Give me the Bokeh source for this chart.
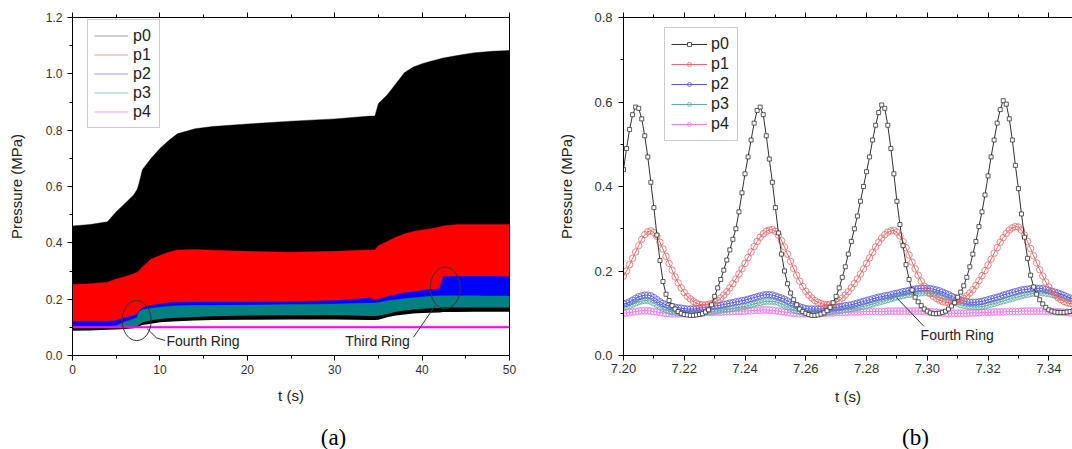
from bokeh.plotting import figure
from bokeh.models import (Range1d, FixedTicker, NumeralTickFormatter, LinearAxis,
                          Legend, LegendItem, Label, CustomLabelingPolicy)
from bokeh.layouts import row, column
from bokeh.embed import file_html
from bokeh.resources import INLINE
from bokeh.core.properties import value

SANS = "Liberation Sans"
SERIF = "Liberation Serif"

# ---------------- panel (a): envelopes of the pressure oscillation ----------------
T_A = [0, 2, 4, 5, 6, 7, 7.4, 7.6, 8, 9, 10, 11, 12, 14, 16, 20, 25, 30, 34, 34.6,
       35, 36, 37, 38, 39, 40, 41, 42, 42.4, 44, 46, 48, 50]
P0_HI = [0.46, 0.465, 0.475, 0.51, 0.54, 0.57, 0.59, 0.61, 0.66, 0.70, 0.735, 0.763,
         0.787, 0.805, 0.813, 0.822, 0.832, 0.84, 0.85, 0.85, 0.895, 0.925, 0.965,
         1.005, 1.024, 1.036, 1.045, 1.053, 1.056, 1.065, 1.075, 1.08, 1.083]
P0_LO = [0.088, 0.089, 0.091, 0.092, 0.094, 0.097, 0.099, 0.104, 0.108, 0.113, 0.118,
         0.12, 0.122, 0.124, 0.126, 0.127, 0.128, 0.128, 0.126, 0.126, 0.127, 0.136,
         0.142, 0.146, 0.149, 0.151, 0.152, 0.153, 0.154, 0.154, 0.155, 0.155, 0.155]
P1_HI = [0.252, 0.255, 0.26, 0.272, 0.28, 0.29, 0.296, 0.30, 0.314, 0.343, 0.355, 0.367,
         0.375, 0.376, 0.374, 0.37, 0.367, 0.37, 0.375, 0.375, 0.39, 0.405, 0.42, 0.432,
         0.44, 0.446, 0.45, 0.456, 0.46, 0.465, 0.465, 0.465, 0.465]
P1_LO = [0.104, 0.104, 0.104, 0.104, 0.105, 0.107, 0.109, 0.112, 0.122, 0.13, 0.135,
         0.138, 0.14, 0.142, 0.144, 0.147, 0.148, 0.149, 0.145, 0.145, 0.146, 0.152,
         0.159, 0.164, 0.167, 0.17, 0.172, 0.173, 0.174, 0.174, 0.174, 0.174, 0.174]
P2_HI = [0.122, 0.122, 0.122, 0.124, 0.134, 0.142, 0.147, 0.158, 0.17, 0.178, 0.183,
         0.187, 0.189, 0.19, 0.19, 0.19, 0.191, 0.195, 0.204, 0.198, 0.2, 0.209, 0.216,
         0.222, 0.226, 0.231, 0.234, 0.237, 0.28, 0.281, 0.281, 0.281, 0.28]
P2_LO = [0.103, 0.103, 0.103, 0.104, 0.105, 0.107, 0.109, 0.112, 0.122, 0.13, 0.135,
         0.138, 0.14, 0.142, 0.144, 0.147, 0.148, 0.149, 0.145, 0.145, 0.146, 0.152,
         0.159, 0.164, 0.167, 0.17, 0.172, 0.173, 0.174, 0.174, 0.174, 0.174, 0.174]
P3_HI = [0.103, 0.103, 0.103, 0.106, 0.12, 0.13, 0.136, 0.155, 0.162, 0.168, 0.172,
         0.175, 0.177, 0.178, 0.178, 0.179, 0.181, 0.183, 0.186, 0.186, 0.188, 0.194,
         0.198, 0.202, 0.205, 0.208, 0.21, 0.212, 0.212, 0.212, 0.212, 0.211, 0.211]
P3_LO = [0.098, 0.098, 0.098, 0.099, 0.1, 0.102, 0.104, 0.108, 0.118, 0.125, 0.13,
         0.132, 0.134, 0.137, 0.139, 0.142, 0.143, 0.144, 0.14, 0.14, 0.141, 0.147,
         0.155, 0.16, 0.163, 0.166, 0.168, 0.169, 0.17, 0.17, 0.17, 0.17, 0.17]
P4_HI = [0.1035, 0.1035, 0.1035, 0.1035, 0.104, 0.104, 0.104, 0.104, 0.104, 0.104,
         0.104, 0.104, 0.104, 0.104, 0.104, 0.104, 0.104, 0.104, 0.104, 0.104, 0.104,
         0.104, 0.104, 0.104, 0.104, 0.104, 0.104, 0.104, 0.104, 0.104, 0.104, 0.104, 0.104]
P4_LO = [0.0965, 0.0965, 0.0965, 0.0965, 0.097, 0.097, 0.097, 0.097, 0.097, 0.097,
         0.097, 0.097, 0.097, 0.097, 0.097, 0.097, 0.097, 0.097, 0.097, 0.097, 0.097,
         0.097, 0.097, 0.097, 0.097, 0.097, 0.097, 0.097, 0.097, 0.097, 0.097, 0.097, 0.097]

A_XTICKS = [0, 10, 20, 30, 40, 50]
A_XMINOR = [5, 15, 25, 35, 45]
A_YTICKS = [0.0, 0.2, 0.4, 0.6, 0.8, 1.0, 1.2]
A_YMINOR = [0.1, 0.3, 0.5, 0.7, 0.9, 1.1]

# ---------------- panel (b): zoom on 7.20 - 7.35 s, 1 ms sampling ----------------
T0_B = 7.200
DT_B = 0.001
B_P0 = [0.44, 0.49, 0.535, 0.57, 0.588, 0.585, 0.56, 0.52, 0.47, 0.41,
        0.35, 0.285, 0.225, 0.175, 0.145, 0.13, 0.118, 0.11, 0.104, 0.10,
        0.097, 0.096, 0.095, 0.095, 0.096, 0.097, 0.099, 0.103, 0.108, 0.12,
        0.14, 0.16, 0.18, 0.202, 0.226, 0.25, 0.275, 0.30, 0.34, 0.385,
        0.43, 0.47, 0.51, 0.55, 0.58, 0.588, 0.57, 0.52, 0.465, 0.41,
        0.35, 0.29, 0.24, 0.20, 0.17, 0.148, 0.132, 0.12, 0.11, 0.104,
        0.10, 0.097, 0.095, 0.095, 0.096, 0.098, 0.101, 0.106, 0.114, 0.125,
        0.14, 0.16, 0.185, 0.21, 0.24, 0.27, 0.30, 0.33, 0.365, 0.40,
        0.435, 0.47, 0.51, 0.545, 0.575, 0.593, 0.585, 0.545, 0.49, 0.43,
        0.365, 0.31, 0.26, 0.215, 0.18, 0.155, 0.138, 0.127, 0.118, 0.11,
        0.105, 0.101, 0.099, 0.099, 0.10, 0.102, 0.105, 0.11, 0.117, 0.125,
        0.138, 0.15, 0.165, 0.185, 0.21, 0.24, 0.27, 0.305, 0.34, 0.38,
        0.425, 0.47, 0.51, 0.55, 0.582, 0.603, 0.595, 0.56, 0.51, 0.45,
        0.395, 0.335, 0.28, 0.23, 0.19, 0.162, 0.145, 0.132, 0.122, 0.114,
        0.108, 0.105, 0.103, 0.102, 0.102, 0.102, 0.103, 0.104, 0.106, 0.108,
        0.112]
B_P1 = [0.188, 0.20, 0.215, 0.23, 0.245, 0.26, 0.275, 0.286, 0.293, 0.295,
        0.291, 0.282, 0.268, 0.252, 0.235, 0.218, 0.202, 0.186, 0.172, 0.16,
        0.149, 0.14, 0.134, 0.128, 0.124, 0.121, 0.12, 0.12, 0.121, 0.123,
        0.126, 0.13, 0.136, 0.143, 0.151, 0.16, 0.17, 0.181, 0.193, 0.205,
        0.218, 0.232, 0.245, 0.258, 0.27, 0.28, 0.288, 0.294, 0.297, 0.298,
        0.294, 0.285, 0.272, 0.257, 0.24, 0.223, 0.206, 0.19, 0.176, 0.163,
        0.152, 0.143, 0.136, 0.13, 0.126, 0.123, 0.121, 0.12, 0.121, 0.123,
        0.126, 0.13, 0.136, 0.143, 0.151, 0.16, 0.17, 0.181, 0.193, 0.205,
        0.218, 0.231, 0.244, 0.257, 0.268, 0.278, 0.286, 0.292, 0.295, 0.296,
        0.292, 0.283, 0.27, 0.255, 0.238, 0.221, 0.205, 0.19, 0.176, 0.164,
        0.154, 0.146, 0.14, 0.135, 0.131, 0.128, 0.126, 0.125, 0.125, 0.126,
        0.128, 0.131, 0.135, 0.141, 0.148, 0.156, 0.166, 0.177, 0.189, 0.201,
        0.214, 0.228, 0.242, 0.255, 0.268, 0.279, 0.289, 0.297, 0.302, 0.305,
        0.304, 0.297, 0.285, 0.27, 0.253, 0.236, 0.219, 0.203, 0.188, 0.174,
        0.162, 0.152, 0.144, 0.137, 0.132, 0.128, 0.125, 0.123, 0.122, 0.121,
        0.121]
B_P2 = [0.122, 0.124, 0.127, 0.131, 0.135, 0.139, 0.141, 0.143, 0.143, 0.141,
        0.137, 0.132, 0.127, 0.123, 0.12, 0.117, 0.115, 0.114, 0.113, 0.112,
        0.111, 0.11, 0.11, 0.11, 0.111, 0.112, 0.113, 0.114, 0.115, 0.116,
        0.117, 0.118, 0.119, 0.121, 0.122, 0.124, 0.125, 0.127, 0.128, 0.13,
        0.131, 0.133, 0.135, 0.137, 0.139, 0.141, 0.143, 0.144, 0.144, 0.143,
        0.141, 0.138, 0.136, 0.133, 0.129, 0.125, 0.121, 0.118, 0.115, 0.113,
        0.111, 0.11, 0.11, 0.11, 0.11, 0.11, 0.111, 0.112, 0.112, 0.113,
        0.114, 0.115, 0.116, 0.118, 0.119, 0.12, 0.122, 0.124, 0.126, 0.128,
        0.13, 0.132, 0.134, 0.136, 0.138, 0.139, 0.141, 0.142, 0.144, 0.146,
        0.147, 0.149, 0.151, 0.152, 0.154, 0.156, 0.157, 0.158, 0.159, 0.159,
        0.159, 0.158, 0.157, 0.155, 0.153, 0.15, 0.147, 0.144, 0.14, 0.137,
        0.134, 0.131, 0.129, 0.127, 0.126, 0.126, 0.126, 0.127, 0.128, 0.13,
        0.132, 0.134, 0.136, 0.138, 0.14, 0.143, 0.145, 0.147, 0.149, 0.151,
        0.153, 0.155, 0.156, 0.157, 0.158, 0.159, 0.159, 0.159, 0.158, 0.156,
        0.154, 0.152, 0.15, 0.148, 0.145, 0.142, 0.139, 0.136, 0.134, 0.132,
        0.13]
B_P3 = [0.114, 0.116, 0.118, 0.121, 0.124, 0.127, 0.129, 0.13, 0.13, 0.128,
        0.124, 0.12, 0.115, 0.111, 0.108, 0.105, 0.103, 0.102, 0.101, 0.1,
        0.1, 0.1, 0.1, 0.1, 0.101, 0.101, 0.102, 0.103, 0.103, 0.104,
        0.105, 0.106, 0.107, 0.108, 0.109, 0.11, 0.111, 0.113, 0.114, 0.115,
        0.116, 0.118, 0.12, 0.122, 0.124, 0.125, 0.127, 0.128, 0.128, 0.128,
        0.127, 0.125, 0.122, 0.119, 0.115, 0.111, 0.108, 0.105, 0.103, 0.102,
        0.101, 0.1, 0.1, 0.1, 0.1, 0.101, 0.101, 0.102, 0.103, 0.104,
        0.105, 0.106, 0.107, 0.108, 0.109, 0.11, 0.112, 0.113, 0.115, 0.116,
        0.118, 0.12, 0.122, 0.124, 0.126, 0.128, 0.13, 0.132, 0.134, 0.136,
        0.138, 0.14, 0.141, 0.143, 0.144, 0.145, 0.146, 0.147, 0.148, 0.148,
        0.148, 0.147, 0.146, 0.145, 0.143, 0.14, 0.137, 0.133, 0.129, 0.126,
        0.123, 0.12, 0.118, 0.117, 0.116, 0.115, 0.115, 0.115, 0.116, 0.117,
        0.119, 0.121, 0.123, 0.125, 0.127, 0.129, 0.131, 0.133, 0.135, 0.137,
        0.139, 0.141, 0.143, 0.144, 0.146, 0.147, 0.148, 0.148, 0.148, 0.147,
        0.146, 0.144, 0.142, 0.14, 0.138, 0.136, 0.133, 0.13, 0.128, 0.126,
        0.124]
B_P4 = [0.1, 0.101, 0.102, 0.103, 0.104, 0.105, 0.106, 0.106, 0.106, 0.105,
        0.104, 0.103, 0.102, 0.101, 0.1, 0.1, 0.099, 0.099, 0.099, 0.099,
        0.099, 0.1, 0.1, 0.1, 0.101, 0.101, 0.101, 0.102, 0.102, 0.102,
        0.103, 0.103, 0.103, 0.104, 0.104, 0.104, 0.104, 0.105, 0.105, 0.105,
        0.105, 0.106, 0.106, 0.107, 0.107, 0.107, 0.108, 0.108, 0.107, 0.107,
        0.106, 0.105, 0.104, 0.103, 0.102, 0.101, 0.1, 0.1, 0.099, 0.099,
        0.099, 0.099, 0.099, 0.1, 0.1, 0.1, 0.1, 0.101, 0.101, 0.101,
        0.102, 0.102, 0.102, 0.102, 0.103, 0.103, 0.103, 0.103, 0.103, 0.104,
        0.104, 0.104, 0.104, 0.104, 0.104, 0.104, 0.104, 0.105, 0.105, 0.105,
        0.105, 0.105, 0.105, 0.105, 0.105, 0.105, 0.105, 0.105, 0.105, 0.104,
        0.104, 0.103, 0.103, 0.102, 0.101, 0.101, 0.1, 0.1, 0.1, 0.1,
        0.1, 0.1, 0.1, 0.1, 0.101, 0.101, 0.101, 0.101, 0.102, 0.102,
        0.102, 0.102, 0.103, 0.103, 0.103, 0.103, 0.104, 0.104, 0.104, 0.104,
        0.104, 0.105, 0.105, 0.105, 0.105, 0.105, 0.105, 0.105, 0.105, 0.105,
        0.104, 0.104, 0.104, 0.103, 0.103, 0.102, 0.102, 0.101, 0.101, 0.1,
        0.1]
T_B = [round(T0_B + i * DT_B, 3) for i in range(len(B_P0))]

B_XTICKS = [7.20, 7.22, 7.24, 7.26, 7.28, 7.30, 7.32, 7.34]
B_XMINOR = [7.21, 7.23, 7.25, 7.27, 7.29, 7.31, 7.33]
B_YTICKS = [0.0, 0.2, 0.4, 0.6, 0.8]
B_YMINOR = [0.1, 0.3, 0.5, 0.7]

NAMES = ["p0", "p1", "p2", "p3", "p4"]
A_COLORS = ["#000000", "#ff0000", "#0000ff", "#008080", "#ff00ff"]
B_COLORS = ["#333333", "#e86a6a", "#5a5ae6", "#5fae9f", "#f07af0"]

CAPTIONS = ["(a)", "(b)"]
CAPTION_X = [333, 915]   # caption centres, in page pixels


def style_axis(ax, size, ticks, minor, fmt, show_labels=True):
    ax.ticker = FixedTicker(ticks=ticks, minor_ticks=minor)
    ax.formatter = NumeralTickFormatter(format=fmt)
    ax.axis_line_color = "black"
    ax.major_tick_line_color = "black"
    ax.minor_tick_line_color = "black"
    ax.major_tick_out = 5
    ax.major_tick_in = 0
    ax.minor_tick_out = 3
    ax.minor_tick_in = 0
    ax.major_label_text_font = SANS
    ax.major_label_text_font_size = size
    ax.major_label_text_color = "#333333"
    ax.axis_label_text_font = SANS
    ax.axis_label_text_font_size = "15px"
    ax.axis_label_text_font_style = "normal"
    ax.axis_label_text_color = "#222222"
    if not show_labels:
        ax.major_label_policy = CustomLabelingPolicy(code="return new Set()")
        ax.major_label_standoff = 0
        ax.major_label_text_font_size = "1px"


# ================= panel (a) =================
pa = figure(width=540, height=420, output_backend="svg", toolbar_location=None,
            x_range=Range1d(0, 50), y_range=Range1d(0, 1.2),
            min_border_left=72, min_border_right=31, min_border_top=17,
            min_border_bottom=65)
pa.xgrid.visible = False
pa.ygrid.visible = False
pa.outline_line_color = "black"
pa.outline_line_width = 1
pa.background_fill_color = "white"
pa.border_fill_color = "white"

his = [P0_HI, P1_HI, P2_HI, P3_HI, P4_HI]
los = [P0_LO, P1_LO, P2_LO, P3_LO, P4_LO]
edge_lines = []
for hi, lo, col in zip(his, los, A_COLORS):
    pa.varea(x=T_A, y1=lo, y2=hi, fill_color=col)
    edge_lines.append(pa.line(T_A, hi, line_color=col, line_width=1, line_alpha=0.4))

# annotations (a)
pa.ellipse(x=[7.34, 42.65], y=[0.124, 0.24], width=[3.32, 3.43], height=[0.142, 0.148],
           fill_color=None, line_color="#333333", line_width=1)
pa.line([8.54, 9.6, 10.6], [0.095, 0.063, 0.053], line_color="#333333", line_width=1)
pa.line([39.02, 41.5], [0.065, 0.177], line_color="#333333", line_width=1)
pa.add_layout(Label(x=10.75, y=0.053, text="Fourth Ring", text_font=SANS,
                    text_font_size="14px", text_baseline="middle", text_align="left",
                    text_color="#222222"))
pa.add_layout(Label(x=38.6, y=0.05, text="Third Ring", text_font=SANS,
                    text_font_size="14px", text_baseline="middle", text_align="right",
                    text_color="#222222"))

style_axis(pa.xaxis[0], "12px", A_XTICKS, A_XMINOR, "0")
style_axis(pa.yaxis[0], "12px", A_YTICKS, A_YMINOR, "0.0")
pa.xaxis[0].axis_label = "t (s)"
pa.yaxis[0].axis_label = "Pressure (MPa)"
pa.xaxis[0].major_label_standoff = 4
pa.xaxis[0].axis_label_standoff = 10
pa.yaxis[0].major_label_standoff = 5
pa.yaxis[0].axis_label_standoff = 18
top_a = LinearAxis()
style_axis(top_a, "12px", A_XTICKS, A_XMINOR, "0", show_labels=False)
pa.add_layout(top_a, "above")

leg_a = Legend(items=[LegendItem(label=n, renderers=[r]) for n, r in zip(NAMES, edge_lines)],
               location=(15, 227), glyph_width=34, glyph_height=19, label_height=19,
               label_standoff=5, spacing=0, padding=6, margin=0,
               label_text_font=SANS, label_text_font_size="16px",
               label_text_color="#222222", border_line_color="#999999",
               border_line_width=1, background_fill_color="white", background_fill_alpha=1)
pa.add_layout(leg_a)

# ================= panel (b) =================
pb = figure(width=532, height=420, output_backend="svg", toolbar_location=None,
            x_range=Range1d(7.20, 7.3478), y_range=Range1d(0, 0.8),
            min_border_left=83, min_border_right=0, min_border_top=16,
            min_border_bottom=61)
pb.xgrid.visible = False
pb.ygrid.visible = False
pb.outline_line_color = None
pb.background_fill_color = "white"
pb.border_fill_color = "white"

series_b = [B_P0, B_P1, B_P2, B_P3, B_P4]
markers = ["square", "circle", "circle", "circle", "circle"]
sizes = [4, 6.5, 6.5, 6, 7]
fills = ["white", None, None, None, None]
items_b = {}
for idx in [4, 3, 2, 1, 0]:
    col = B_COLORS[idx]
    ln = pb.line(T_B, series_b[idx], line_color=col, line_width=1)
    sc = pb.scatter(T_B, series_b[idx], marker=markers[idx], size=sizes[idx],
                    line_color=col, line_width=0.8, fill_color=fills[idx])
    items_b[idx] = [ln, sc]

pb.line([7.2900, 7.2989], [0.136, 0.069], line_color="#333333", line_width=1)
pb.add_layout(Label(x=7.2978, y=0.049, text="Fourth Ring", text_font=SANS,
                    text_font_size="14px", text_baseline="middle", text_align="left",
                    text_color="#222222"))

style_axis(pb.xaxis[0], "13px", B_XTICKS, B_XMINOR, "0.00")
style_axis(pb.yaxis[0], "13px", B_YTICKS, B_YMINOR, "0.0")
pb.xaxis[0].axis_label = "t (s)"
pb.yaxis[0].axis_label = "Pressure (MPa)"
pb.xaxis[0].major_label_standoff = 3
pb.xaxis[0].axis_label_standoff = 12
pb.yaxis[0].major_label_standoff = 6
pb.yaxis[0].axis_label_standoff = 16
top_b = LinearAxis()
style_axis(top_b, "13px", B_XTICKS, B_XMINOR, "0.00", show_labels=False)
pb.add_layout(top_b, "above")

leg_b = Legend(items=[LegendItem(label=NAMES[i], renderers=items_b[i]) for i in range(5)],
               location=(41, 214), glyph_width=36, glyph_height=10, label_height=20,
               label_standoff=4, spacing=0, padding=6, margin=0,
               label_text_font=SANS, label_text_font_size="16px",
               label_text_color="#222222", border_line_color="#999999",
               border_line_width=1, background_fill_color="white", background_fill_alpha=1)
pb.add_layout(leg_b)

# ================= captions strip =================
cap = figure(width=1072, height=29, output_backend="svg", toolbar_location=None,
             x_range=Range1d(0, 1072), y_range=Range1d(0, 29),
             min_border_left=0, min_border_right=0, min_border_top=0, min_border_bottom=0)
cap.xaxis.visible = False
cap.yaxis.visible = False
cap.xgrid.visible = False
cap.ygrid.visible = False
cap.outline_line_color = None
cap.background_fill_color = "white"
cap.border_fill_color = "white"
cap.text(x=CAPTION_X, y=[12, 12], text=CAPTIONS, text_font=value(SERIF),
         text_font_size="23px", text_align="center", text_baseline="middle",
         text_color="black")

layout = column(row(pa, pb), cap)
open("out.html", "w").write(file_html(layout, INLINE))
